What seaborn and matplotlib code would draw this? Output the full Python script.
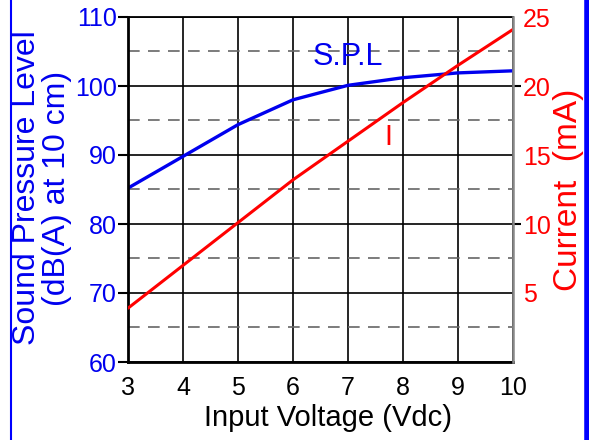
import numpy as np
import pandas as pd
import seaborn as sns
import matplotlib.pyplot as plt
from matplotlib.lines import Line2D
from matplotlib.ticker import MultipleLocator, FixedLocator

# values
voltage = [3, 4, 5, 6, 7, 8, 9, 10]
spl_db = [85.2, 89.8, 94.4, 98.0, 100.1, 101.2, 101.9, 102.2]
current_ma = [3.9, 7.0, 10.1, 13.2, 16.0, 18.8, 21.5, 24.1]

df = pd.DataFrame({"V": voltage, "SPL": spl_db, "I": current_ma})

sns.set_style("white")
plt.rcParams['font.family'] = ['Liberation Sans', 'DejaVu Sans']

BLUE = '#0000ee'
RED = '#ff0000'

fig = plt.figure(figsize=(5.89, 4.40), dpi=100)
ax = fig.add_axes([128 / 589, 1 - 362 / 440, (513 - 128) / 589, (362 - 17) / 440])
ax2 = ax.twinx()

# grid
ax.set_xlim(3, 10)
ax.set_ylim(60, 110)
ax.xaxis.set_major_locator(MultipleLocator(1))
ax.set_yticks([60, 70, 80, 90, 100, 110])
ax.yaxis.set_minor_locator(FixedLocator([65, 75, 85, 95, 105]))
ax.grid(which='major', axis='both', color='black', linewidth=1.2, linestyle='-')
ax.grid(which='minor', axis='y', color='#666666', linewidth=1.2, linestyle=(0, (7, 5)))
ax.set_axisbelow(True)

sns.lineplot(data=df, x="V", y="SPL", ax=ax, color=BLUE, linewidth=2.4)
sns.lineplot(data=df, x="V", y="I", ax=ax2, color=RED, linewidth=2.2)

ax2.set_ylim(0, 25)
ax2.set_yticks([5, 10, 15, 20, 25])
ax2.yaxis.set_minor_locator(FixedLocator([10.01, 20.01]))
ax2.grid(False)

for s in ['left', 'bottom', 'top']:
    ax.spines[s].set_color('black')
ax.spines['left'].set_linewidth(2.0)
ax.spines['bottom'].set_linewidth(2.0)
ax.spines['top'].set_linewidth(1.3)
for s in ['left', 'bottom', 'top']:
    ax2.spines[s].set_visible(False)
ax2.spines['right'].set_color('#888888')
ax2.spines['right'].set_linewidth(1.8)
ax.spines['right'].set_visible(False)

ax.tick_params(axis='x', which='major', length=0, labelsize=18, labelcolor='black', pad=10)
ax.tick_params(axis='y', which='major', length=7, width=1.5, color='black', direction='out',
               labelsize=18, labelcolor=BLUE, pad=1)
ax.tick_params(axis='y', which='minor', length=0)
ax2.tick_params(axis='y', which='major', length=0, labelsize=18, labelcolor=RED, pad=7)
ax2.tick_params(axis='y', which='minor', length=6, width=1.5, color='black', direction='out')
ax.set_xlabel("")
ax.set_ylabel("")
ax2.set_ylabel("")

fig.text(328 / 589, 1 - 418 / 440, "Input Voltage (Vdc)", fontsize=21, color='black',
         ha='center', va='center')
fig.text(42 / 589, 1 - 188 / 440, "Sound Pressure Level\n(dB(A) at 10 cm)", fontsize=23,
         color=BLUE, rotation=90, ha='center', va='center', linespacing=1.0,
         multialignment='center')
fig.text(568 / 589, 1 - 190 / 440, "Current  (mA)", fontsize=24, color=RED,
         rotation=90, ha='center', va='center')

ax.text(7.0, 104.2, "S.P.L", fontsize=22, color=BLUE, ha='center', va='center')
ax.text(7.73, 92.6, "I", fontsize=21, color=RED, ha='center', va='center')

# blue border strips at the edges of the picture
fig.add_artist(Line2D([11 / 589, 11 / 589], [0, 1], color='#0000ff', linewidth=1.5))
fig.add_artist(Line2D([587 / 589, 587 / 589], [0, 1], color='#0000ff', linewidth=4))

fig.savefig("out.png", dpi=100)
